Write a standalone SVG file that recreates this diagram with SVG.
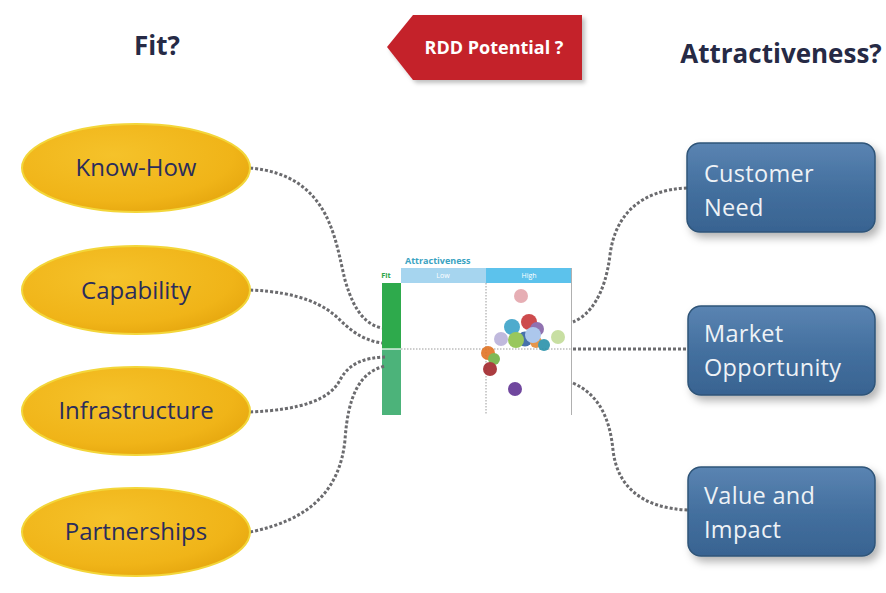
<svg xmlns="http://www.w3.org/2000/svg" width="886" height="593" viewBox="0 0 886 593">
<defs>
<radialGradient id="gold" cx="0.4" cy="0.35" r="0.75">
<stop offset="0" stop-color="#f5c22a"/>
<stop offset="0.7" stop-color="#f0b418"/>
<stop offset="1" stop-color="#e3a30c"/>
</radialGradient>
<linearGradient id="blue" x1="0" y1="0" x2="0" y2="1">
<stop offset="0" stop-color="#5a84b2"/>
<stop offset="0.5" stop-color="#44709f"/>
<stop offset="1" stop-color="#386391"/>
</linearGradient>
<filter id="sh" x="-10%" y="-10%" width="130%" height="140%">
<feDropShadow dx="4" dy="5" stdDeviation="4" flood-color="#000" flood-opacity="0.3"/>
</filter>
<filter id="sh2" x="-10%" y="-10%" width="130%" height="140%">
<feDropShadow dx="3" dy="3" stdDeviation="2" flood-color="#000" flood-opacity="0.25"/>
</filter>
</defs>
<style>
.title{font-family:"Open Sans","Liberation Sans",sans-serif;font-weight:bold;font-size:26px;fill:#262a45}
.ell{fill:url(#gold);stroke:#f3d63a;stroke-width:2}
.etxt{font-family:"Open Sans","Liberation Sans",sans-serif;font-size:24px;fill:#2a2c5c;text-anchor:middle}
.box{fill:url(#blue);stroke:#2f5478;stroke-width:1.5}
.btxt{font-family:"Open Sans","Liberation Sans",sans-serif;font-size:23.5px;fill:#eef2f6;letter-spacing:0.3px}
.conn{fill:none;stroke:#6b6b6e;stroke-width:3;stroke-dasharray:3 2}
.axis{stroke:#9a9a9a;stroke-width:1;stroke-dasharray:1.5 1.5;fill:none}
.small{font-family:"Open Sans","Liberation Sans",sans-serif;font-size:7px;fill:#ffffff;text-anchor:middle}
</style>
<rect width="886" height="593" fill="#ffffff"/>

<text class="title" x="157" y="55" text-anchor="middle">Fit?</text>
<text class="title" x="781" y="63" text-anchor="middle">Attractiveness?</text>

<g id="rdd">
<polygon points="387,47 413,15 582,15 582,80 413,80" fill="#c4212b" filter="url(#sh2)"/>
<text x="494" y="54" font-family="'Open Sans','Liberation Sans',sans-serif" font-weight="bold" font-size="18" fill="#ffffff" text-anchor="middle">RDD Potential ?</text>
</g>

<g id="chart">
<text x="405" y="264" font-family="'Open Sans','Liberation Sans',sans-serif" font-weight="bold" font-size="9" fill="#3aa3c2">Attractiveness</text>
<text x="386" y="278" font-family="'Open Sans','Liberation Sans',sans-serif" font-weight="bold" font-size="7.5" fill="#2ea64a" text-anchor="middle">Fit</text>
<rect x="401" y="268" width="85" height="15" fill="#a6d5ef"/>
<rect x="486" y="268" width="86" height="15" fill="#5cc2ec"/>
<text class="small" x="443" y="278">Low</text>
<text class="small" x="529" y="278">High</text>
<rect x="382" y="283" width="19" height="66" fill="#2eaa4c"/>
<rect x="382" y="349" width="19" height="66" fill="#4cb37a"/>
<line x1="382" y1="349" x2="401" y2="349" stroke="#ffffff" stroke-width="1.2"/>
<line x1="571.5" y1="268" x2="571.5" y2="415" stroke="#b0b0b0" stroke-width="1"/>
<line class="axis" x1="486" y1="283" x2="486" y2="415"/>
<line class="axis" x1="401" y1="349" x2="572" y2="349"/>
<g opacity="0.9">
<circle cx="521" cy="296" r="7" fill="#e4a6ac"/>
<circle cx="558" cy="337" r="7" fill="#c3dc98"/>
<circle cx="529" cy="322" r="8" fill="#c8383a"/>
<circle cx="537" cy="329" r="7" fill="#8463a8"/>
<circle cx="512" cy="327" r="8" fill="#3ba2c8"/>
<circle cx="501" cy="339" r="7" fill="#bab2da"/>
<circle cx="525" cy="339" r="7.5" fill="#3462a2"/>
<circle cx="536" cy="342" r="6" fill="#e48a36"/>
<circle cx="533" cy="335" r="8" fill="#a4c2ea"/>
<circle cx="516" cy="340" r="8" fill="#8dc24c"/>
<circle cx="544" cy="345" r="6" fill="#2a92aa"/>
<circle cx="488" cy="353" r="7" fill="#e27424"/>
<circle cx="494" cy="359" r="6" fill="#72b244"/>
<circle cx="490" cy="369" r="7" fill="#a2282c"/>
<circle cx="515" cy="389" r="7" fill="#613494"/>
</g>
</g>

<g id="connectors">
<path class="conn" d="M250,168 C330,175 335,240 345,280 C355,315 368,325 382,328"/>
<path class="conn" d="M250,290 C300,292 325,305 340,320 C355,335 368,341 382,343"/>
<path class="conn" d="M250,412 C300,410 330,400 340,380 C350,362 365,358 385,357"/>
<path class="conn" d="M250,532 C310,520 340,490 345,440 C348,395 360,372 385,366"/>
<path class="conn" d="M687,188 C640,190 615,215 610,255 C605,295 590,315 573,322"/>
<path class="conn" d="M573,349 L688,349"/>
<path class="conn" d="M573,383 C600,395 610,420 613,450 C617,485 640,508 688,510"/>
</g>

<g id="know-how">
<ellipse class="ell" cx="136" cy="168" rx="114" ry="44"/>
<text class="etxt" x="136" y="176">Know-How</text>
</g>
<g id="capability">
<ellipse class="ell" cx="136" cy="290" rx="114" ry="44"/>
<text class="etxt" x="136" y="299">Capability</text>
</g>
<g id="infrastructure">
<ellipse class="ell" cx="136" cy="411" rx="114" ry="44"/>
<text class="etxt" x="136" y="419">Infrastructure</text>
</g>
<g id="partnerships">
<ellipse class="ell" cx="136" cy="532" rx="114" ry="44"/>
<text class="etxt" x="136" y="540">Partnerships</text>
</g>

<g id="customer-need">
<rect class="box" x="687" y="143" width="188" height="89" rx="13" filter="url(#sh)"/>
<text class="btxt" x="704" y="182">Customer</text>
<text class="btxt" x="704" y="216">Need</text>
</g>
<g id="market-opportunity">
<rect class="box" x="688" y="306" width="187" height="89" rx="13" filter="url(#sh)"/>
<text class="btxt" x="704" y="342">Market</text>
<text class="btxt" x="704" y="376">Opportunity</text>
</g>
<g id="value-impact">
<rect class="box" x="688" y="467" width="187" height="89" rx="13" filter="url(#sh)"/>
<text class="btxt" x="704" y="504">Value and</text>
<text class="btxt" x="704" y="538">Impact</text>
</g>
</svg>
